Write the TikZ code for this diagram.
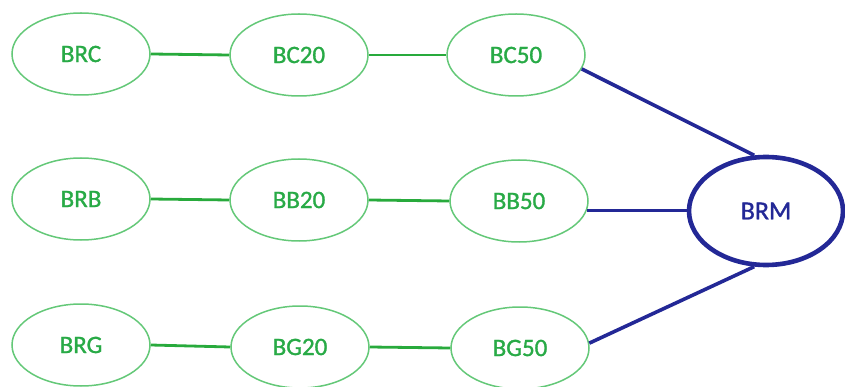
\documentclass[tikz,border=0pt]{standalone}
\usepackage{fontspec}
\setmainfont[FakeBold=1.2,AutoFakeBold=1.2]{Carlito}
\usetikzlibrary{shapes.geometric}
\definecolor{gline}{RGB}{100,200,120}
\definecolor{gtext}{RGB}{40,170,70}
\definecolor{gconn}{RGB}{40,170,60}
\definecolor{navy}{RGB}{35,40,150}
\begin{document}
\begin{tikzpicture}[x=1pt,y=-1pt,
  gnode/.style={ellipse,draw=gline,line width=1.5pt,minimum width=138pt,minimum height=82pt,inner sep=0pt,text=gtext,font=\fontsize{25}{27}\selectfont\bfseries},
  bnode/.style={ellipse,draw=navy,line width=4.6pt,minimum width=154pt,minimum height=108pt,inner sep=0pt,text=navy,font=\fontsize{26}{28}\selectfont\bfseries},
  gconnect/.style={draw=gconn,line width=2.8pt},
  bconnect/.style={draw=navy,line width=3.6pt}]
\useasboundingbox (0,0) rectangle (845,387);
\node[gnode] (BRC) at (81,54) {BRC};
\node[gnode] (BC20) at (299,55) {BC20};
\node[gnode] (BC50) at (516,55) {BC50};
\node[gnode] (BRB) at (81,199) {BRB};
\node[gnode] (BB20) at (299,200) {BB20};
\node[gnode] (BB50) at (519,201) {BB50};
\node[gnode] (BRG) at (81,345) {BRG};
\node[gnode] (BG20) at (300,347) {BG20};
\node[gnode] (BG50) at (520,348) {BG50};
\node[bnode] (BRM) at (766,211) {BRM};
\draw[gconnect] (BRC.east) -- (BC20.west);
\draw[gconnect] (BC20.east) -- (BC50.west);
\draw[gconnect] (BRB.east) -- (BB20.west);
\draw[gconnect] (BB20.east) -- (BB50.west);
\draw[gconnect] (BRG.east) -- (BG20.west);
\draw[gconnect] (BG20.east) -- (BG50.west);
\coordinate (bbend) at (BRM.west |- BB50.-8);
\draw[bconnect] (BC50.-12) -- (BRM.102);
\draw[bconnect] (BB50.-8) -- (bbend);
\draw[bconnect] (BG50.4) -- (BRM.-102);
\end{tikzpicture}
\end{document}
